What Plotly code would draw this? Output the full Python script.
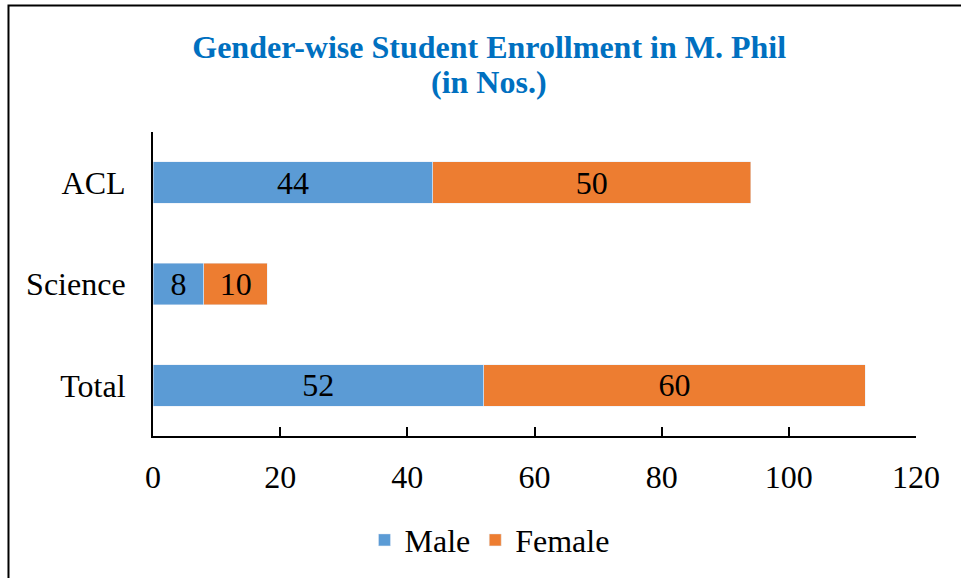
import plotly.graph_objects as go

# Enrollment data (bottom to top as drawn)
categories = ["Total", "Science", "ACL"]
male = [52, 8, 44]
female = [60, 10, 50]
x_ticks = [0, 20, 40, 60, 80, 100, 120]

serif = "Liberation Serif"
fs = 32

fig = go.Figure()
fig.add_trace(go.Bar(
    y=categories, x=male, name="Male", orientation="h",
    marker=dict(color="#5B9BD5"),
    text=male, textposition="inside", insidetextanchor="middle",
    textangle=0, constraintext="none",
    textfont=dict(family=serif, size=fs, color="black"),
))
fig.add_trace(go.Bar(
    y=categories, x=female, name="Female", orientation="h",
    marker=dict(color="#ED7D31"),
    text=female, textposition="inside", insidetextanchor="middle",
    textangle=0, constraintext="none",
    textfont=dict(family=serif, size=fs, color="black"),
))

# outer chart border (only top and left visible in the frame)
fig.add_shape(
    type="rect", xref="paper", yref="paper",
    x0=-0.1894, x1=1.2, y0=-0.6, y1=1.4164,
    line=dict(color="black", width=2), fillcolor="rgba(0,0,0,0)",
)

# second title line, kept tight to the first
fig.add_annotation(
    text="<b>(in Nos.)</b>", xref="paper", yref="paper",
    x=0.4404, y=1.1639, xanchor="center", yanchor="middle", showarrow=False,
    font=dict(family=serif, size=fs, color="#0070C0"),
)

fig.update_layout(
    width=961, height=578,
    barmode="stack", bargap=0.59,
    paper_bgcolor="white", plot_bgcolor="white",
    margin=dict(l=153, r=45, t=132, b=141),
    title=dict(
        text="<b>Gender-wise Student Enrollment in M. Phil</b>",
        font=dict(family=serif, size=fs, color="#0070C0"),
        x=0.509, xanchor="center", y=0.9187, yanchor="middle",
    ),
    legend=dict(
        orientation="h", x=0.441, xanchor="center", y=-0.338, yanchor="middle",
        font=dict(family=serif, size=fs, color="black"),
        traceorder="normal",
    ),
    font=dict(family=serif, color="black"),
)

fig.update_xaxes(
    range=[0, 120], tickvals=x_ticks, showgrid=False, zeroline=False,
    showline=True, linecolor="black", linewidth=2,
    ticks="inside", ticklen=9, tickwidth=1.5, tickcolor="black",
    tickfont=dict(family=serif, size=fs, color="black"),
    ticklabelstandoff=12,
)
fig.update_yaxes(
    showgrid=False, zeroline=False,
    showline=True, linecolor="black", linewidth=2,
    ticks="", tickfont=dict(family=serif, size=fs, color="black"),
    ticklabelstandoff=19,
)

fig.write_html(
    "out.html",
    config={"displayModeBar": False},
    post_script="document.body.style.margin='0px';",
)
